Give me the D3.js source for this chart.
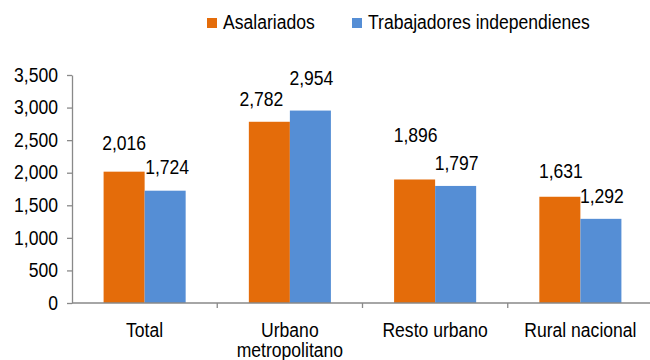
<!DOCTYPE html>
<html>
<head>
<meta charset="utf-8">
<script src="https://cdn.jsdelivr.net/npm/d3@7"></script>
<style>
  html, body { margin: 0; padding: 0; background: #fff; }
  svg { display: block; font-family: "Liberation Sans", Arial, sans-serif; }
</style>
</head>
<body>
<svg id="chart" width="650" height="360"></svg>
<script>
// Average income by area, two worker groups
const categories = ["Total", "Urbano metropolitano", "Resto urbano", "Rural nacional"];
const seriesNames = ["Asalariados", "Trabajadores independienes"];
const asalariados = [2016, 2782, 1896, 1631];
const independientes = [1724, 2954, 1797, 1292];
const yTicks = [0, 500, 1000, 1500, 2000, 2500, 3000, 3500];

// layout
const colors = ["#E46C0A", "#558ED5"];
// hand placement of value labels: [dx, lift above bar top] per series, per category
const labelNudge = [
  [[0, 22], [-8, 16], [1, 37], [1, 19]],
  [[2, 17], [1, 26], [1, 16], [1, 16]]
];
const fontSize = 19.5;
const squeeze = 0.9; // glyphs are drawn a little narrow

const svg = d3.select("#chart");
const plotLeft = 72, plotRight = 653, plotTop = 75, plotBottom = 303;

const x0 = d3.scaleBand().domain(categories).range([plotLeft, plotRight]).padding(0);
const x1 = d3.scaleBand().domain(seriesNames).range([0, x0.bandwidth()])
  .paddingInner(0).paddingOuter(0.77);
const y = d3.scaleLinear().domain([0, 3500]).range([plotBottom, plotTop]);
const fmt = d3.format(",");

// narrow the text horizontally while keeping its height
function condense(sel) {
  sel.each(function () {
    const len = this.getComputedTextLength();
    d3.select(this).attr("textLength", len * squeeze).attr("lengthAdjust", "spacingAndGlyphs");
  });
}

const rows = categories.map((c, i) => ({
  cat: c,
  vals: [asalariados[i], independientes[i]]
}));

// bars
const groups = svg.append("g").selectAll("g").data(rows).join("g")
  .attr("transform", d => `translate(${x0(d.cat)},0)`);

groups.selectAll("rect").data((d, ci) => d.vals.map((v, si) => ({ v, si, ci })))
  .join("rect")
  .attr("x", d => x1(seriesNames[d.si]))
  .attr("y", d => y(d.v))
  .attr("width", x1.bandwidth())
  .attr("height", d => y(0) - y(d.v))
  .attr("fill", d => colors[d.si]);

// value labels
groups.selectAll("text.val").data((d, ci) => d.vals.map((v, si) => ({ v, si, ci })))
  .join("text")
  .attr("class", "val")
  .attr("x", d => x1(seriesNames[d.si]) + x1.bandwidth() / 2 + labelNudge[d.si][d.ci][0])
  .attr("y", d => y(d.v) - labelNudge[d.si][d.ci][1])
  .attr("text-anchor", "middle")
  .attr("font-size", fontSize)
  .attr("fill", "#000")
  .text(d => fmt(d.v))
  .call(condense);

// y axis
const yAxis = svg.append("g")
  .attr("transform", `translate(${plotLeft},0)`)
  .call(d3.axisLeft(y).tickValues(yTicks).tickFormat(fmt).tickSize(5).tickSizeOuter(0).tickPadding(9));
yAxis.select(".domain").attr("stroke", "#898989").attr("stroke-width", 1.3);
yAxis.selectAll(".tick line").attr("stroke", "#898989").attr("stroke-width", 1.3);
yAxis.selectAll(".tick text").attr("font-size", fontSize).attr("fill", "#000")
  .attr("font-family", "'Liberation Sans', Arial, sans-serif")
  .call(condense);

// x axis with boundary ticks between categories
const boundaries = categories.map(c => x0(c)).concat([plotRight]);
const xAxis = svg.append("g");
xAxis.append("line")
  .attr("x1", plotLeft).attr("x2", plotRight)
  .attr("y1", y(0)).attr("y2", y(0))
  .attr("stroke", "#898989").attr("stroke-width", 1.3);
xAxis.selectAll("line.tk").data(boundaries.slice(1)).join("line")
  .attr("class", "tk")
  .attr("x1", d => d).attr("x2", d => d)
  .attr("y1", y(0)).attr("y2", y(0) + 5)
  .attr("stroke", "#898989").attr("stroke-width", 1.3);

// category labels, wrapped onto two lines where long
const catLines = { "Urbano metropolitano": ["Urbano", "metropolitano"] };
categories.forEach(d => {
  const lines = catLines[d] || [d];
  lines.forEach((ln, i) => {
    xAxis.append("text")
      .attr("class", "cat")
      .attr("x", x0(d) + x0.bandwidth() / 2)
      .attr("y", y(0) + 34 + i * 20)
      .attr("text-anchor", "middle")
      .attr("font-size", fontSize)
      .attr("fill", "#000")
      .text(ln)
      .call(condense);
  });
});

// legend
const legendItems = [
  { name: seriesNames[0], color: colors[0], x: 207 },
  { name: seriesNames[1], color: colors[1], x: 352 }
];
const lg = svg.append("g").selectAll("g").data(legendItems).join("g")
  .attr("transform", d => `translate(${d.x},18)`);
lg.append("rect").attr("width", 10).attr("height", 10).attr("fill", d => d.color);
lg.append("text").attr("x", 16).attr("y", 11).attr("font-size", fontSize)
  .attr("fill", "#000").text(d => d.name)
  .call(condense);
</script>
</body>
</html>
